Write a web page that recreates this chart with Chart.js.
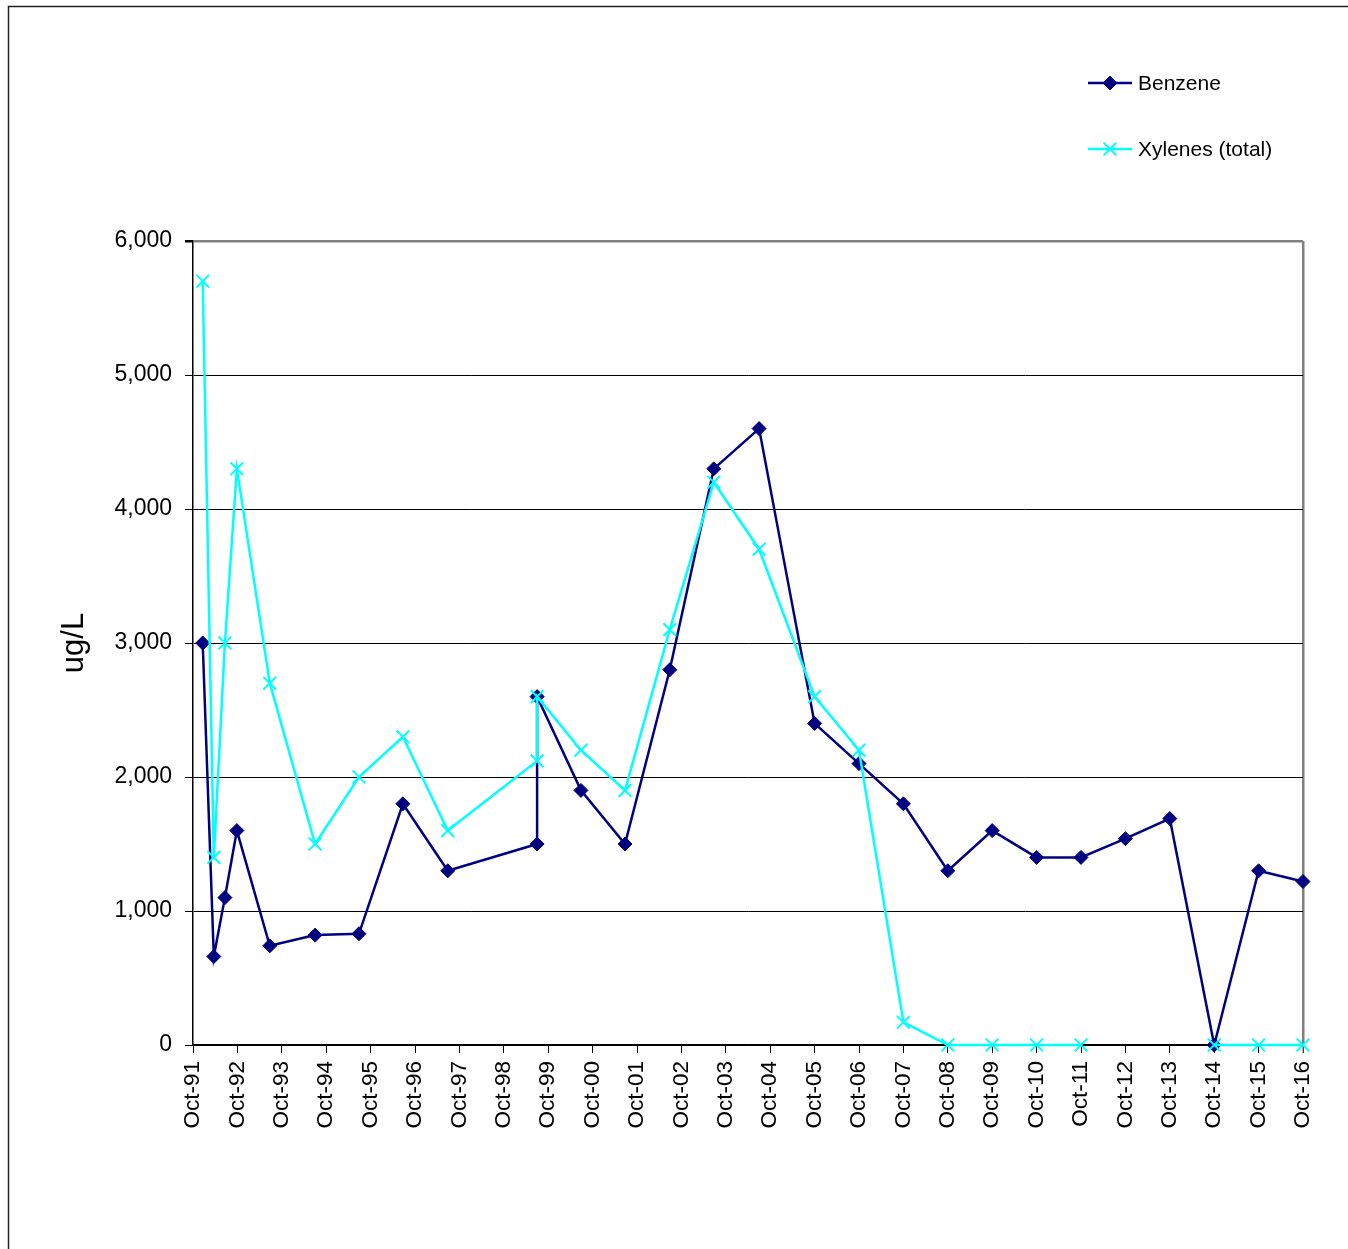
<!DOCTYPE html>
<html>
<head>
<meta charset="utf-8">
<script src="https://cdn.jsdelivr.net/npm/chart.js@4/dist/chart.umd.min.js"></script>
<style>
  body { margin: 0; background: #fff; }
  canvas { display: block; }
</style>
</head>
<body>
<canvas id="grafico" width="1348" height="1249"></canvas>
<script>
// datas das amostras (mesma data para as duas séries)
const datasAmostra = [
    '1991-12-20', '1992-03-20', '1992-06-20', '1992-09-27', '1993-06-24',
    '1994-07-01', '1995-06-27', '1996-06-23', '1997-06-27', '1999-07-01',
    '1999-07-01', '2000-06-27', '2001-06-24', '2002-06-27', '2003-06-24',
    '2004-07-01', '2005-10-01', '2006-10-01', '2007-10-01', '2008-10-01',
    '2009-10-01', '2010-10-01', '2011-10-01', '2012-10-01', '2013-10-01',
    '2014-10-01', '2015-10-01', '2016-10-01'
];

const benzeno = [3000, 660, 1100, 1600, 740, 820, 830, 1800, 1300, 1500,
    2600, 1900, 1500, 2800, 4300, 4600, 2400, 2100, 1800, 1300,
    1600, 1400, 1400, 1540, 1690, 0, 1300, 1220];

const xilenos = [5700, 1400, 3000, 4300, 2700, 1500, 2000, 2300, 1600, 2120,
    2600, 2200, 1900, 3100, 4200, 3700, 2600, 2200, 170, 0,
    0, 0, 0, null, null, 0, 0, 0];

// eixo x: anos contados a partir de Oct-91
const anoInicial = 1991;
const anoFinal = 2016;
const mesTick = 'Oct';

// converte a data em anos desde 1 de outubro do ano inicial
function anosDesdeInicio(data) {
    const [a, m, d] = data.split('-').map(Number);
    return (a + (m - 1) / 12 + (d - 1) / 365) - (anoInicial + 9 / 12);
}

function montaPontos(valores) {
    return datasAmostra.map((data, i) => ({ x: anosDesdeInicio(data), y: valores[i] }));
}

const fonte = '"Liberation Sans", Arial, sans-serif';

// borda externa e legenda vertical no canto superior direito
const extras = {
    id: 'extras',
    afterDraw(chart) {
        const ctx = chart.ctx;
        ctx.save();
        ctx.strokeStyle = '#222';
        ctx.lineWidth = 1.5;
        ctx.beginPath();
        ctx.moveTo(8.5, 1300);
        ctx.lineTo(8.5, 6.5);
        ctx.lineTo(1400, 6.5);
        ctx.stroke();

        const linhasY = [83, 149];
        chart.data.datasets.forEach((ds, i) => {
            const y = linhasY[i];
            ctx.strokeStyle = ds.borderColor;
            ctx.lineWidth = ds.borderWidth;
            ctx.beginPath();
            ctx.moveTo(1088, y);
            ctx.lineTo(1132, y);
            ctx.stroke();
            ctx.fillStyle = ds.backgroundColor;
            ctx.lineWidth = ds.pointBorderWidth;
            Chart.helpers.drawPoint(ctx, {
                pointStyle: ds.pointStyle,
                radius: ds.pointRadius,
                rotation: 0,
                borderWidth: ds.pointBorderWidth
            }, 1110, y);
            ctx.fillStyle = '#000';
            ctx.font = '21px ' + fonte;
            ctx.textBaseline = 'middle';
            ctx.textAlign = 'left';
            ctx.fillText(ds.label, 1138, y + 1);
        });
        ctx.restore();
    }
};

new Chart(document.getElementById('grafico').getContext('2d'), {
    type: 'line',
    data: {
        datasets: [{
            label: 'Benzene',
            data: montaPontos(benzeno),
            borderColor: '#000080',
            backgroundColor: '#000080',
            borderWidth: 2.5,
            pointStyle: 'rectRot',
            pointRadius: 7,
            pointBorderWidth: 1,
            tension: 0,
            clip: false,
            order: 1
        }, {
            label: 'Xylenes (total)',
            data: montaPontos(xilenos),
            borderColor: '#00FFFF',
            backgroundColor: '#00FFFF',
            borderWidth: 2.5,
            pointStyle: 'crossRot',
            pointRadius: 9,
            pointBorderWidth: 2,
            tension: 0,
            spanGaps: false,
            clip: false,
            order: 0
        }]
    },
    options: {
        responsive: false,
        animation: false,
        layout: { padding: { top: 241, right: 45, left: 0, bottom: 0 } },
        plugins: {
            legend: { display: false },
            tooltip: { enabled: false }
        },
        scales: {
            x: {
                type: 'linear',
                min: 0,
                max: anoFinal - anoInicial,
                afterFit(escala) { escala.height = 204; },
                ticks: {
                    stepSize: 1,
                    autoSkip: false,
                    minRotation: 90,
                    maxRotation: 90,
                    padding: 8,
                    color: '#000',
                    font: { family: fonte, size: 22.5 },
                    callback: v => mesTick + '-' + String((anoInicial + v) % 100).padStart(2, '0')
                },
                grid: {
                    color: c => c.index === anoFinal - anoInicial ? '#808080' : 'rgba(0,0,0,0)',
                    lineWidth: c => c.index === anoFinal - anoInicial ? 2.5 : 1,
                    tickColor: '#000',
                    tickLength: 8,
                    tickWidth: 1
                },
                border: { color: '#000', width: 1.5 }
            },
            y: {
                min: 0,
                max: 6000,
                afterFit(escala) { escala.width = 193; },
                ticks: {
                    stepSize: 1000,
                    padding: 13,
                    color: '#000',
                    font: { family: fonte, size: 23 },
                    callback: v => v.toLocaleString('en-US')
                },
                grid: {
                    color: c => c.tick && c.tick.value === 6000 ? '#808080' : '#000',
                    lineWidth: c => c.tick && c.tick.value === 6000 ? 2.5 : 1,
                    tickColor: '#000',
                    tickLength: 8
                },
                border: { color: '#000', width: 1.5 },
                title: {
                    display: true,
                    text: 'ug/L',
                    color: '#000',
                    font: { family: fonte, size: 31 },
                    padding: { top: 56, bottom: 0 }
                }
            }
        }
    },
    plugins: [extras]
});
</script>
</body>
</html>
